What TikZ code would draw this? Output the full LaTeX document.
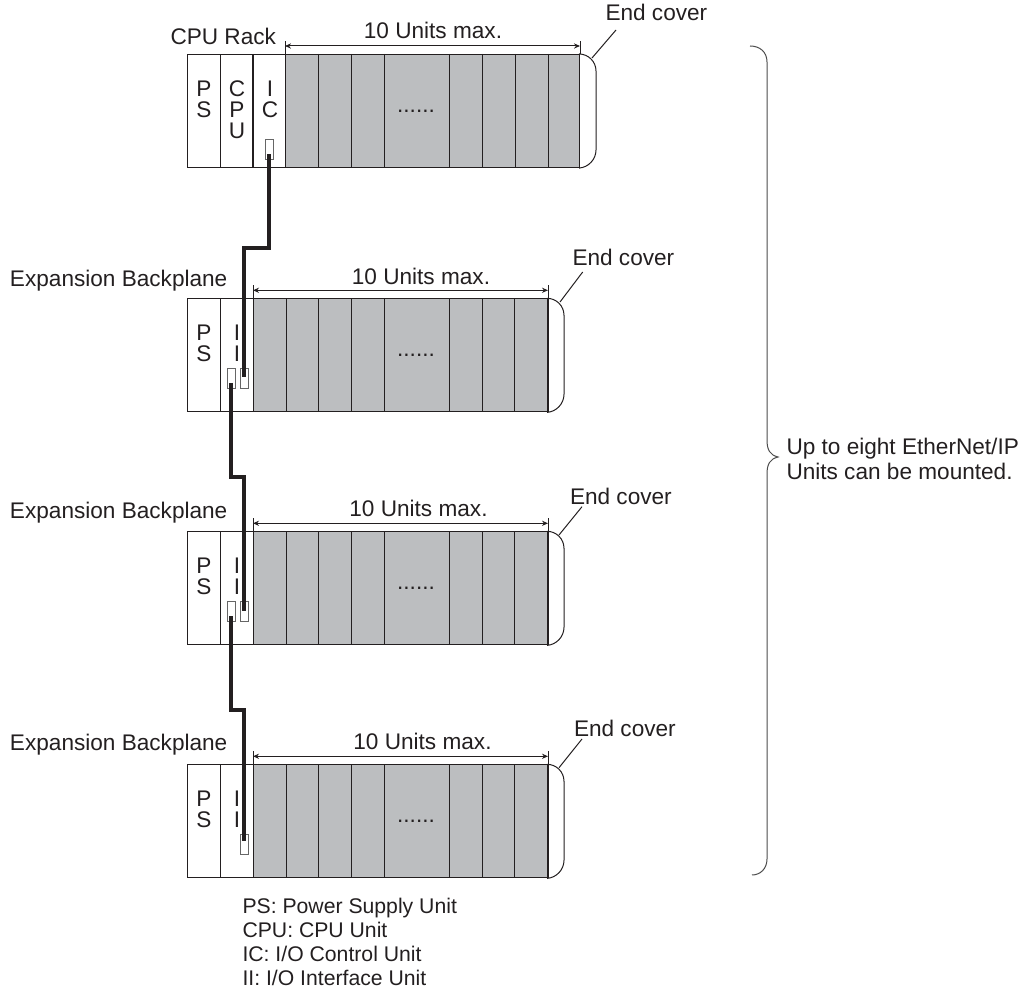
\documentclass[tikz,border=0pt]{standalone}
\usepackage{xcolor}
\usepackage{fontspec}
\setmainfont{Liberation Sans}
\usetikzlibrary{arrows.meta, calc}
\definecolor{unitgray}{HTML}{BCBEC0}
\definecolor{inkdark}{HTML}{231F20}

\begin{document}
\begin{tikzpicture}[x=0.5pt, y=-0.5pt, >={Stealth[length=3pt, width=2.6pt]}, line width=0.5pt, draw=inkdark, text=inkdark,
  every node/.style={font=\fontsize{11.3}{12.5}\selectfont},
  unitbox/.style={draw, inner sep=0pt, anchor=north west, minimum width=16.5pt, minimum height=56.5pt, fill=white},
  grayband/.style={unitbox, fill=unitgray, minimum width=147pt},
  unittext/.style={inner sep=0pt, anchor=north, align=center, font=\fontsize{11.3}{10.6}\selectfont},
  dotstext/.style={inner sep=0pt, anchor=center},
  portbox/.style={draw=black!60, inner sep=0pt, fill=white, minimum width=4pt, minimum height=10pt},
  tagtext/.style={inner sep=0pt, anchor=base west},
  maxtext/.style={inner sep=0pt, anchor=base},
  cable/.style={line width=2pt},
  edgeline/.style={line width=0.8pt}]
  \useasboundingbox (0,0) rectangle (1024,989);

  % CPU rack
  \node[unitbox] (psA) at (187,54) {};
  \node[unitbox] (cpuA) at (220,54) {};
  \node[unitbox] (icA) at (253,54) {};
  \node[grayband] (bandA) at (285,54) {};
  \draw (318,54) -- (318,167) (351,54) -- (351,167) (384,54) -- (384,167) (449,54) -- (449,167) (482,54) -- (482,167) (515,54) -- (515,167) (548,54) -- (548,167);
  \draw[edgeline] (icA.north west) -- (icA.south west);
  \draw[rounded corners=8.5pt] (bandA.north east) -- (596,54) -- (596,167) -- (bandA.south east);
  \node[unittext] (psAtext) at ($(psA.north)+(0,26)$) {P\\S};
  \node[unittext] (cpuAtext) at ($(cpuA.north)+(0,26)$) {C\\P\\U};
  \node[unittext] (icAtext) at ($(icA.north)+(0,26)$) {I\\C};
  \node[dotstext] (dotsA) at (416,111) {......};
  \node[portbox] (portA) at (269,149.5) {};
  \node[tagtext] (rackA) at (170,45) {CPU Rack};

  % first expansion backplane
  \node[unitbox] (psB) at (187,298.3) {};
  \node[unitbox] (iiB) at (220,298.3) {};
  \node[grayband] (bandB) at (253,298.3) {};
  \draw (286,298.3) -- (286,411.3) (318,298.3) -- (318,411.3) (351,298.3) -- (351,411.3) (384,298.3) -- (384,411.3) (449,298.3) -- (449,411.3) (482,298.3) -- (482,411.3) (514,298.3) -- (514,411.3);
  \draw[edgeline] (bandB.north east) -- (bandB.south east);
  \draw[rounded corners=8.5pt] (bandB.north east) -- (564,298.3) -- (564,411.3) -- (bandB.south east);
  \node[unittext] (psBtext) at ($(psB.north)+(0,26)$) {P\\S};
  \node[unittext] (iiBtext) at ($(iiB.north)+(0,26)$) {I\\I};
  \node[dotstext] (dotsB) at (416,355.3) {......};
  \node[portbox] (portBin) at (244,378.3) {};
  \node[portbox] (portBout) at (231,378.3) {};
  \node[tagtext] (rackB) at (9.5,287) {Expansion Backplane};

  % second expansion backplane
  \node[unitbox] (psC) at (187,531.3) {};
  \node[unitbox] (iiC) at (220,531.3) {};
  \node[grayband] (bandC) at (253,531.3) {};
  \draw (286,531.3) -- (286,644.3) (318,531.3) -- (318,644.3) (351,531.3) -- (351,644.3) (384,531.3) -- (384,644.3) (449,531.3) -- (449,644.3) (482,531.3) -- (482,644.3) (514,531.3) -- (514,644.3);
  \draw[edgeline] (bandC.north east) -- (bandC.south east);
  \draw[rounded corners=8.5pt] (bandC.north east) -- (564,531.3) -- (564,644.3) -- (bandC.south east);
  \node[unittext] (psCtext) at ($(psC.north)+(0,26)$) {P\\S};
  \node[unittext] (iiCtext) at ($(iiC.north)+(0,26)$) {I\\I};
  \node[dotstext] (dotsC) at (416,588.3) {......};
  \node[portbox] (portCin) at (244,611.7) {};
  \node[portbox] (portCout) at (231,611.7) {};
  \node[tagtext] (rackC) at (9.5,518.5) {Expansion Backplane};

  % third expansion backplane
  \node[unitbox] (psD) at (187,764.3) {};
  \node[unitbox] (iiD) at (220,764.3) {};
  \node[grayband] (bandD) at (253,764.3) {};
  \draw (286,764.3) -- (286,877.3) (318,764.3) -- (318,877.3) (351,764.3) -- (351,877.3) (384,764.3) -- (384,877.3) (449,764.3) -- (449,877.3) (482,764.3) -- (482,877.3) (514,764.3) -- (514,877.3);
  \draw[edgeline] (bandD.north east) -- (bandD.south east);
  \draw[rounded corners=8.5pt] (bandD.north east) -- (564,764.3) -- (564,877.3) -- (bandD.south east);
  \node[unittext] (psDtext) at ($(psD.north)+(0,26)$) {P\\S};
  \node[unittext] (iiDtext) at ($(iiD.north)+(0,26)$) {I\\I};
  \node[dotstext] (dotsD) at (416,821.3) {......};
  \node[portbox] (portD) at (244,844) {};
  \node[tagtext] (rackD) at (9.5,750.7) {Expansion Backplane};

  % cables
  \draw[cable] ($(portA.center)+(0,5)$) -- ++(0,93.5) -| ($(portBin.center)+(0,-1)$);
  \draw[cable] ($(portBout.center)+(0,4.5)$) -- ++(0,94.2) -| ($(portCin.center)+(0,-1)$);
  \draw[cable] ($(portCout.center)+(0,4.5)$) -- ++(0,94) -| ($(portD.center)+(0,-3)$);

  % width marks
  \draw (bandA.north west) -- ++(0,-13) (bandA.north east) -- ++(0,-13);
  \draw[<->] ($(bandA.north west)+(0,-8)$) -- ($(bandA.north east)+(0,-8)$);
  \node[maxtext] (maxA) at (433,38.5) {10 Units max.};
  \draw (bandB.north west) -- ++(0,-13) (bandB.north east) -- ++(0,-13);
  \draw[<->] ($(bandB.north west)+(0,-8)$) -- ($(bandB.north east)+(0,-8)$);
  \node[maxtext] (maxB) at (421,285) {10 Units max.};
  \draw (bandC.north west) -- ++(0,-13) (bandC.north east) -- ++(0,-13);
  \draw[<->] ($(bandC.north west)+(0,-8)$) -- ($(bandC.north east)+(0,-8)$);
  \node[maxtext] (maxC) at (418.5,517) {10 Units max.};
  \draw (bandD.north west) -- ++(0,-13) (bandD.north east) -- ++(0,-13);
  \draw[<->] ($(bandD.north west)+(0,-8)$) -- ($(bandD.north east)+(0,-8)$);
  \node[maxtext] (maxD) at (422.5,749) {10 Units max.};

  % end covers
  \node[tagtext] (endA) at (605,21) {End cover};
  \coordinate (coverA) at (592,58);
  \draw (coverA) -- ($(endA.base west)+(11,9)$);
  \node[tagtext] (endB) at (572,266) {End cover};
  \coordinate (coverB) at (560,302);
  \draw (coverB) -- ($(endB.base west)+(10.7,6)$);
  \node[tagtext] (endC) at (569.5,504.5) {End cover};
  \coordinate (coverC) at (559,535);
  \draw (coverC) -- ($(endC.base west)+(12.5,2.2)$);
  \node[tagtext] (endD) at (573.5,737) {End cover};
  \coordinate (coverD) at (559,767.7);
  \draw (coverD) -- ($(endD.base west)+(8.5,2)$);

  % brace and legend
  \draw[draw=black!70] (750,46) .. controls (760,46) and (767,52) .. (767,62) -- (767,440) .. controls (767,450) and (770,455) .. (778,457) .. controls (770,459) and (767,464) .. (767,474) -- (767,859) .. controls (767,869) and (760,875) .. (752,875);
  \node[inner sep=0pt, anchor=west, align=left] (mountText) at (786,458.5) {Up to eight EtherNet/IP\\Units can be mounted.};
  \node[inner sep=0pt, anchor=north west, align=left, font=\fontsize{10.6}{11.9}\selectfont] (legend) at (242,898) {PS: Power Supply Unit\\CPU: CPU Unit\\IC: I/O Control Unit\\II: I/O Interface Unit};
\end{tikzpicture}
\end{document}
